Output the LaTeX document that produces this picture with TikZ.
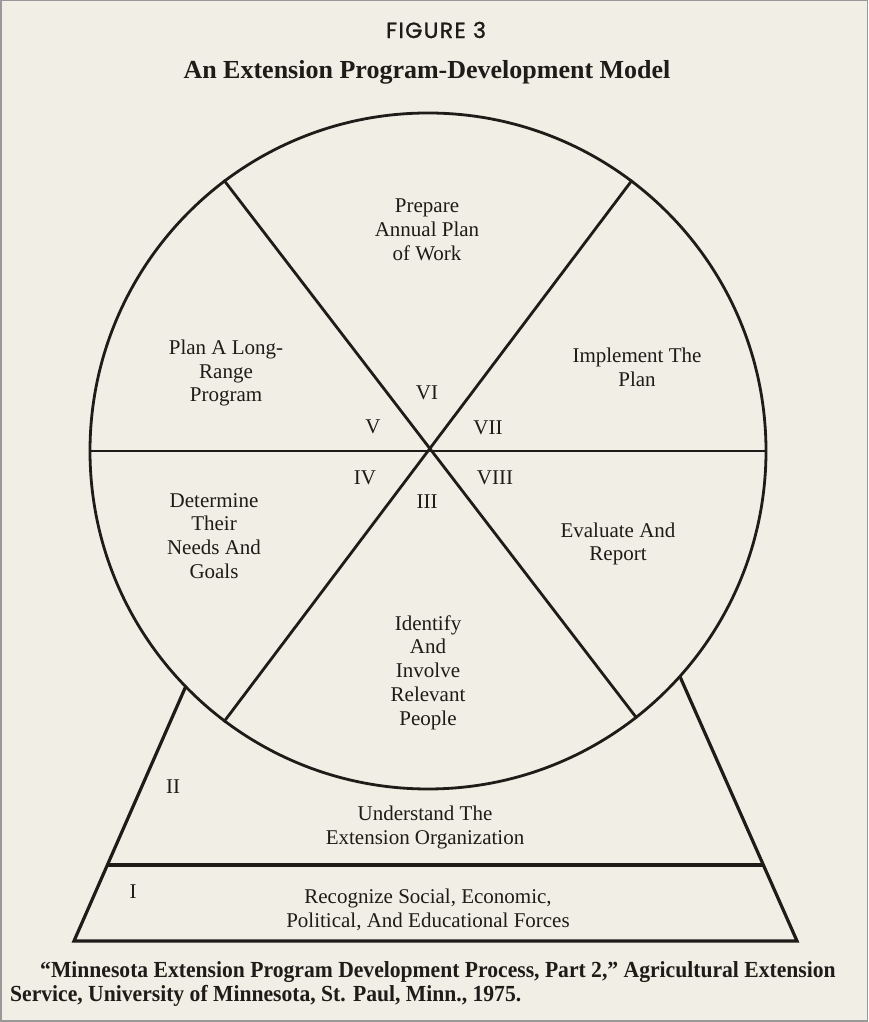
\documentclass[tikz,border=0pt]{standalone}
\usepackage{fontspec}
\setmainfont{Liberation Serif}
\newfontfamily\bodyf{Liberation Serif}
\newfontfamily\footf[FakeStretch=0.94]{Liberation Serif}
\newfontfamily\figf[LetterSpace=6,FakeBold=1.2]{Poppins}
\usetikzlibrary{calc}
\definecolor{paper}{RGB}{241,238,229}
\definecolor{inkc}{RGB}{30,27,24}
\begin{document}
\begin{tikzpicture}[x=1pt,y=1pt,
  ink/.style={draw=inkc, line width=2.8pt},
  lab/.style={font=\bodyf\fontsize{21}{23.8}\selectfont, align=center, text=inkc, inner sep=0pt},
  num/.style={font=\bodyf\fontsize{21}{22}\selectfont, text=inkc, inner sep=0pt},
  foot/.style={font=\footf\bfseries\fontsize{23}{24}\selectfont, text=inkc, inner sep=0pt, anchor=base west}]
\useasboundingbox (0,0) rectangle (868,1022);
\fill[paper] (0,0) rectangle (868,1022);
\draw[gray!80, line width=1.5pt] (0.75,0.75) rectangle (867.25,1021.25);

% headings
\node[font=\figf\fontsize{22}{24}\selectfont, text=inkc, inner sep=0pt] (fig) at (436,992) {FIGURE 3};
\node[font=\bfseries\fontsize{26}{30}\selectfont, text=inkc, inner sep=0pt] (title) at (427,950) {An Extension Program-Development Model};

% pyramid
\coordinate (apex) at (434,901);
\coordinate (bl) at (74,81);
\coordinate (br) at (797,81);
\draw[ink, line width=3.2pt, line join=miter] (apex) -- (bl) -- (br) -- cycle;
\coordinate (barL) at ($(apex)!0.907!(bl)$);
\coordinate (barR) at ($(apex)!0.907!(br)$);
\draw[ink, line width=3.6pt] (barL) -- (barR);

% wheel
\node[circle, minimum size=676pt, fill=paper, draw=inkc, line width=2.8pt, inner sep=0pt] (wheel) at (428,571) {};
\draw[ink] (wheel.180) -- (wheel.0);
\draw[ink] (wheel.127.6) -- (wheel.-52.4);
\draw[ink] (wheel.53) -- (wheel.233);

% stage labels
\node[lab] (s6) at (427,792) {Prepare\\Annual Plan\\of Work};
\node[lab] (s7) at (637,655) {Implement The\\Plan};
\node[lab] (s5) at (226,649) {Plan A Long-\\Range\\Program};
\node[lab] (s8) at (618,478) {Evaluate And\\Report};
\node[lab] (s4) at (214,486) {Determine\\Their\\Needs And\\Goals};
\node[lab] (s3) at (428,349.5) {Identify\\And\\Involve\\Relevant\\People};
\node[lab] (s2) at (425,194.5) {Understand The\\Extension Organization};
\node[lab] (s1) at (428,112.5) {Recognize Social, Economic,\\Political, And Educational Forces};

% numerals
\node[num] (n6) at (427,629) {VI};
\node[num] (n5) at (373,595) {V};
\node[num] (n7) at (488,594) {VII};
\node[num] (n4) at (365,544) {IV};
\node[num] (n8) at (495,544) {VIII};
\node[num] (n3) at (427,520) {III};
\node[num] (n2) at (173,235) {II};
\node[num] (n1) at (133,130) {I};

% source
\node[foot] (src1) at (40,44) {“Minnesota Extension Program Development Process, Part 2,” Agricultural Extension};
\node[foot] (src2) at (10,20) {Service, University of Minnesota, St. Paul, Minn., 1975.};
\end{tikzpicture}
\end{document}
